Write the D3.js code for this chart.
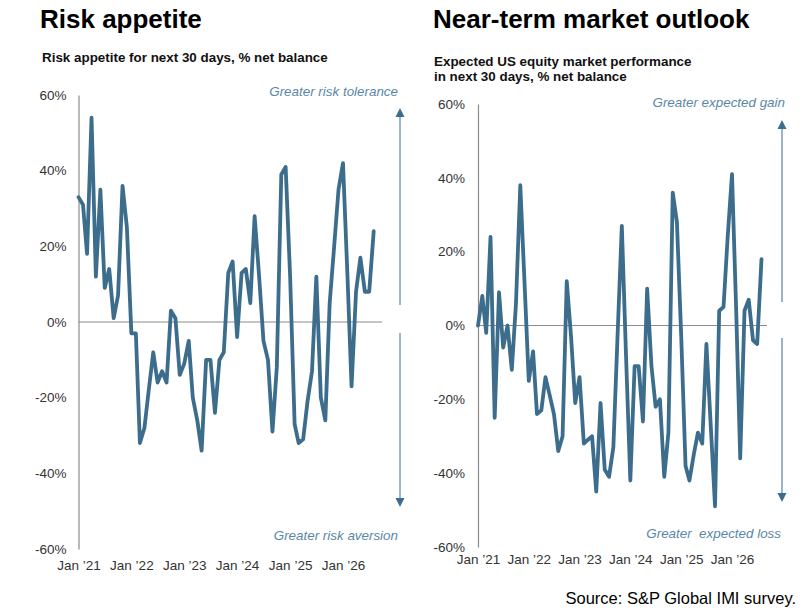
<!DOCTYPE html>
<html>
<head>
<meta charset="utf-8">
<script src="https://cdn.jsdelivr.net/npm/d3@7/dist/d3.min.js"></script>
<style>
  body { margin: 0; background: #fff; }
  svg { display: block; font-family: "Liberation Sans", Arial, sans-serif; }
</style>
</head>
<body>
<svg id="chart" width="810" height="610"></svg>
<script>
// ---- Data (monthly, starting Jan 2021) ----
const startYear = 2021;
const riskAppetite = [33, 31, 18, 54, 12, 35, 9, 14, 1, 7, 36, 25,
  -3, -3, -32, -28, -18, -8, -16, -13, -16, 3, 1, -14,
  -11, -5, -20, -26, -34, -10, -10, -24, -10, -8, 13, 16,
  -4, 13, 14, 5, 28, 12, -5, -10, -29, -12, 39, 41,
  12, -27, -32, -31, -21, -13, 12, -20, -26, 5, 20, 35,
  42, 12, -17, 8, 17, 8, 8, 24];
const marketOutlook = [0, 8, -2, 24, -25, 9, -6, 0, -12, 6, 38, 12,
  -15, -7, -24, -23, -14, -19, -24, -34, -30, 12, -3, -21,
  -14, -32, -31, -30, -45, -21, -39, -41, -33, -3, 27, -8,
  -42, -11, -11, -26, 10, -11, -22, -20, -41, -29, 36, 28,
  -3, -38, -42, -35, -29, -32, -5, -27, -49, 4, 5, 24,
  41, 3, -36, 4, 7, -4, -5, 18];
const yTicks = [-60, -40, -20, 0, 20, 40, 60];
const xTickYears = [2021, 2022, 2023, 2024, 2025, 2026];
const titles = ["Risk appetite", "Near-term market outlook"];
const subtitles = [["Risk appetite for next 30 days, % net balance"],
                   ["Expected US equity market performance", "in next 30 days, % net balance"]];
const upLabels = ["Greater risk tolerance", "Greater expected gain"];
const downLabels = ["Greater risk aversion", "Greater  expected loss"];
const sourceText = "Source: S&P Global IMI survey.";

const lineColor = "#3d6d8d";
const annoColor = "#5a87a8";
const arrowLine = "#86a9c0";
const axisGrey = "#8c8c8c";
const labelColor = "#333333";

const svg = d3.select("#chart");

const toDate = i => new Date(startYear, i, 1);

const panels = [
  { data: riskAppetite, x0: 78.5, xJan26: 343, yTop: 95, yBot: 549, zeroEnd: 382,
    titleX: 40, subX: 42, subY: 62, arrowX: 400, upHead: 108, upEnd: 305, downStart: 333, downHead: 507,
    upLabelY: 96, downLabelY: 540, labelRight: 398, xLabelY: 572, tickPad: 12 },
  { data: marketOutlook, x0: 478, xJan26: 732, yTop: 104, yBot: 547, zeroEnd: 767,
    titleX: 433, subX: 434, subY: 66, arrowX: 782, upHead: 120, upEnd: 302, downStart: 338, downHead: 502,
    upLabelY: 107, downLabelY: 538, labelRight: 785, xLabelY: 566, tickPad: 13 }
];

panels.forEach((p, k) => {
  const g = svg.append("g");
  const x = d3.scaleTime()
    .domain([new Date(2021, 0, 1), new Date(2026, 0, 1)])
    .range([p.x0, p.xJan26]);
  const y = d3.scaleLinear().domain([-60, 60]).range([p.yBot, p.yTop]);

  // Title & subtitle
  g.append("text").attr("x", p.titleX).attr("y", 28)
    .attr("font-size", 26).attr("font-weight", "bold").attr("fill", "#000")
    .text(titles[k]);
  subtitles[k].forEach((s, j) => {
    g.append("text").attr("x", p.subX).attr("y", p.subY + j * 15)
      .attr("font-size", 13.4).attr("font-weight", "bold").attr("fill", "#111")
      .text(s);
  });

  // Y axis
  const yAxis = d3.axisLeft(y).tickValues(yTicks).tickSize(0).tickPadding(p.tickPad)
    .tickFormat(d => d + "%");
  const ya = g.append("g").attr("transform", `translate(${p.x0},0)`).call(yAxis);
  ya.select(".domain").attr("stroke", axisGrey).attr("stroke-width", 1.2);
  ya.selectAll("text").attr("font-size", 13.5).attr("fill", labelColor)
    .attr("font-family", "'Liberation Sans', Arial, sans-serif");

  // X axis labels
  const xAxis = d3.axisBottom(x).tickValues(xTickYears.map(yr => new Date(yr, 0, 1)))
    .tickSize(0).tickPadding(0)
    .tickFormat(d => "Jan \u2019" + String(d.getFullYear()).slice(2));
  const xa = g.append("g").attr("transform", `translate(0,${p.xLabelY - 12})`).call(xAxis);
  xa.select(".domain").remove();
  xa.selectAll("text").attr("font-size", 13.5).attr("fill", labelColor)
    .attr("font-family", "'Liberation Sans', Arial, sans-serif");

  // Zero line
  g.append("line").attr("x1", p.x0).attr("x2", p.zeroEnd)
    .attr("y1", y(0)).attr("y2", y(0))
    .attr("stroke", axisGrey).attr("stroke-width", 1.2);

  // Series line
  const line = d3.line().x((d, i) => x(toDate(i))).y(d => y(d));
  g.append("path").datum(p.data).attr("d", line)
    .attr("fill", "none").attr("stroke", lineColor).attr("stroke-width", 3.8)
    .attr("stroke-linejoin", "round").attr("stroke-linecap", "round");

  // Arrows
  g.append("line").attr("x1", p.arrowX).attr("x2", p.arrowX)
    .attr("y1", p.upHead + 7).attr("y2", p.upEnd)
    .attr("stroke", arrowLine).attr("stroke-width", 1.7);
  g.append("path")
    .attr("d", `M${p.arrowX - 4.5},${p.upHead + 9} L${p.arrowX},${p.upHead} L${p.arrowX + 4.5},${p.upHead + 9} Z`)
    .attr("fill", lineColor);
  g.append("line").attr("x1", p.arrowX).attr("x2", p.arrowX)
    .attr("y1", p.downStart).attr("y2", p.downHead - 7)
    .attr("stroke", arrowLine).attr("stroke-width", 1.7);
  g.append("path")
    .attr("d", `M${p.arrowX - 4.5},${p.downHead - 9} L${p.arrowX},${p.downHead} L${p.arrowX + 4.5},${p.downHead - 9} Z`)
    .attr("fill", lineColor);

  // Direction labels
  g.append("text").attr("x", p.labelRight).attr("y", p.upLabelY)
    .attr("text-anchor", "end").attr("font-size", 13.4).attr("font-style", "italic")
    .attr("fill", annoColor).text(upLabels[k]);
  g.append("text").attr("x", p.labelRight - (k === 1 ? 4 : 0)).attr("y", p.downLabelY)
    .attr("text-anchor", "end").attr("font-size", 13.4).attr("font-style", "italic")
    .attr("fill", annoColor).attr("xml:space", "preserve").style("white-space", "pre")
    .text(downLabels[k]);
});

svg.append("text").attr("x", 796).attr("y", 604).attr("text-anchor", "end")
  .attr("font-size", 16.5).attr("fill", "#000").text(sourceText);
</script>
</body>
</html>
